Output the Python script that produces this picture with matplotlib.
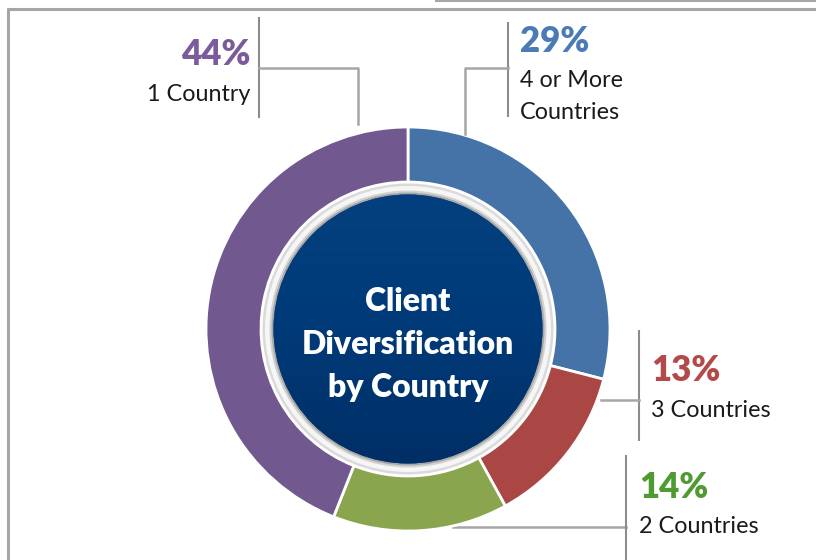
import matplotlib
matplotlib.use('Agg')
import matplotlib.pyplot as plt
import numpy as np
from matplotlib.patches import Circle
from matplotlib.colors import LinearSegmentedColormap

# ---- data ----
categories = ['4 or More\nCountries', '3 Countries', '2 Countries', '1 Country']
values = [29, 13, 14, 44]
pct_labels = ['29%', '13%', '14%', '44%']
wedge_colors = ['#4572A7', '#AA4643', '#89A54E', '#71588F']
text_colors = ['#4A7AB7', '#B24A4A', '#4F9A31', '#7A5C9D']
center_title = 'Client\nDiversification\nby Country'

W, H = 816, 560
FONT = ['Lato', 'DejaVu Sans']

fig = plt.figure(figsize=(W / 100, H / 100), dpi=100)
ax = fig.add_axes([0, 0, 1, 1])


def Y(y):
    return H - y


cx, cy = 408, Y(329)
R = 202
ring = 55

ax.pie(values, colors=wedge_colors, startangle=90, counterclock=False,
       center=(cx, cy), radius=R,
       wedgeprops=dict(width=ring, edgecolor='white', linewidth=2.0))

ax.set_xlim(0, W)
ax.set_ylim(0, H)
ax.set_aspect('equal')
ax.axis('off')

# center bevel rim
ax.add_patch(Circle((cx, cy), 145.5, fc='#dadada', ec='none', zorder=3))
ax.add_patch(Circle((cx, cy), 143, fc='#f6f6f6', ec='none', zorder=3))
ax.add_patch(Circle((cx, cy), 138.5, fc='#d2d2d2', ec='none', zorder=3))
ax.add_patch(Circle((cx, cy), 136.5, fc='#a8a8a8', ec='none', zorder=3))
inner = Circle((cx, cy), 134.5, fc='#003A78', ec='none', zorder=4)
ax.add_patch(inner)
cmap = LinearSegmentedColormap.from_list('g', ['#04407f', '#003a78', '#002f66'])
grad = np.linspace(0, 1, 256).reshape(-1, 1)
im = ax.imshow(grad, cmap=cmap, extent=(cx - 135, cx + 135, cy - 135, cy + 135),
               origin='upper', zorder=5, aspect='auto')
im.set_clip_path(inner)

# center title
for i, line in enumerate(center_title.split('\n')):
    ax.text(cx, Y(311 + 43 * i), line, color='white', fontsize=23,
            fontweight='heavy', family=FONT, ha='center', va='baseline', zorder=6)

# leader lines
lc_dark = '#8c8c8c'
lc_light = '#a6a6a6'
# 44%
ax.plot([259, 259], [Y(17), Y(118)], color=lc_dark, lw=1.5, solid_capstyle='butt')
ax.plot([259, 358, 358], [Y(68), Y(68), Y(124)], color=lc_light, lw=1.8)
# 29%
ax.plot([508, 508], [Y(22), Y(117)], color=lc_dark, lw=1.5, solid_capstyle='butt')
ax.plot([508, 465, 465], [Y(68), Y(68), Y(134)], color=lc_light, lw=1.8)
# 13%
ax.plot([639, 639], [Y(330), Y(441)], color=lc_dark, lw=1.5, solid_capstyle='butt')
ax.plot([601, 639], [Y(400), Y(400)], color=lc_light, lw=1.8)
# 14%
ax.plot([626, 626], [Y(455), Y(560)], color=lc_dark, lw=1.5, solid_capstyle='butt')
ax.plot([453, 626], [Y(527), Y(527)], color=lc_light, lw=1.8, zorder=0)

# labels: (x, pct baseline, name baseline, ha)
label_pos = [(520, 52, 87, 'left'), (651, 381, 417, 'left'),
             (639, 498, 533, 'left'), (250, 65, 101, 'right')]
for (x, yp, yn, ha), pct, name, col in zip(label_pos, pct_labels, categories, text_colors):
    ax.text(x, Y(yp), pct, color=col, fontsize=25, fontweight='heavy',
            family=FONT, ha=ha, va='baseline')
    for j, line in enumerate(name.split('\n')):
        ax.text(x, Y(yn + 32 * j), line, color='#1a1a1a', fontsize=16.8,
                family=FONT, ha=ha, va='baseline')

# frame lines
ax.plot([7, W], [Y(9), Y(9)], color='#a6a6a6', lw=2.2, solid_capstyle='butt')
ax.plot([8, 8], [Y(8), Y(H)], color='#a6a6a6', lw=2.2, solid_capstyle='butt')
ax.plot([435, W], [Y(0.5), Y(0.5)], color='#a6a6a6', lw=1.5, solid_capstyle='butt')

fig.savefig('out.png', dpi=100, facecolor='white')
